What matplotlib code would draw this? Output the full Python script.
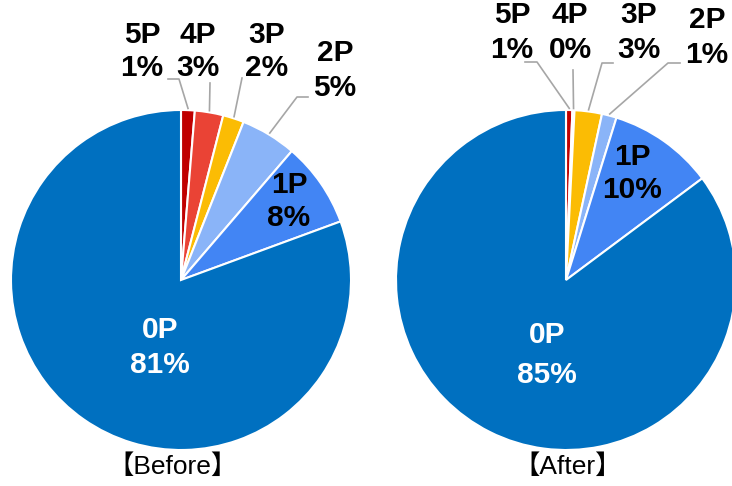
import numpy as np
import matplotlib
matplotlib.use("Agg")
import matplotlib.pyplot as plt

# slices listed clockwise from 12 o'clock
categories = ["5P", "4P", "3P", "2P", "1P", "0P"]
before_values = [1.3, 2.7, 2.0, 5.3, 8.1, 80.6]
after_values = [0.6, 0.2, 2.6, 1.4, 10.0, 85.2]
colors = ["#C00000", "#EA4335", "#FBBC04", "#8AB4F8", "#4285F4", "#0070C0"]
titles = ["【Before】", "【After】"]

W, H = 732, 486
bold_font = ["Liberation Sans", "DejaVu Sans"]
title_font = ["Liberation Sans", "Noto Sans CJK JP", "DejaVu Sans"]

fig = plt.figure(figsize=(W / 100, H / 100), dpi=100)
ax = fig.add_axes([0, 0, 1, 1])

R = 170
# pixel layout (y measured from top)
layouts = [
    dict(center=(181, 280),
         outer={"5P": ((142, 35, 68), [(179, 79), (168, 79)]),
                "4P": ((198, 35, 68), [(210, 83)]),
                "3P": ((267, 35, 68), [(242, 78)]),
                "2P": ((335, 53, 88), [(297, 97), (308, 97)])},
         inner={"1P": (289, 185, 218, "black"), "0P": (160, 330, 365, "white")},
         title=(173, 467)),
    dict(center=(566, 280),
         outer={"5P": ((512, 15, 50), [(537, 62), (525, 62)]),
                "4P": ((570, 15, 50), [(573, 70)]),
                "3P": ((639, 15, 50), [(602, 63), (613, 63)]),
                "2P": ((707, 20, 55), [(668, 63), (680, 63)])},
         inner={"1P": (632, 157, 190, "black"), "0P": (547, 335, 375, "white")},
         title=(568, 467)),
]

for values, lay, title in zip([before_values, after_values], layouts, titles):
    cx, cy = lay["center"]
    ax.pie(values, colors=colors, startangle=90, counterclock=False,
           center=(cx, H - cy), radius=R,
           wedgeprops=dict(edgecolor="white", linewidth=1.5), frame=True)
    total = sum(values)
    cum = np.cumsum([0] + values[:-1]) / total
    fracs = np.array(values) / total
    for i, cat in enumerate(categories):
        pct = f"{round(values[i] / total * 100):.0f}%"
        if cat in lay["outer"]:
            (tx, ty1, ty2), pts = lay["outer"][cat]
            mid = (cum[i] + fracs[i] / 2) * 2 * np.pi
            ex, ey = cx + R * 1.01 * np.sin(mid), cy - R * 1.01 * np.cos(mid)
            xs = [ex] + [p[0] for p in pts]
            ys = [H - ey] + [H - p[1] for p in pts]
            ax.plot(xs, ys, color="#A6A6A6", lw=1.2, zorder=1)
            tc = "black"
        else:
            tx, ty1, ty2, tc = lay["inner"][cat]
        ax.text(tx, H - ty1, cat, ha="center", va="center", fontsize=21.5,
                fontweight="bold", family=bold_font, color=tc)
        ax.text(tx, H - ty2, pct, ha="center", va="center", fontsize=21.5,
                fontweight="bold", family=bold_font, color=tc)
    ax.text(lay["title"][0], H - lay["title"][1], title, ha="center", va="center",
            fontsize=19, family=title_font)

ax.set_xlim(0, W)
ax.set_ylim(0, H)
ax.set_aspect("equal")
ax.axis("off")
fig.savefig("out.png", dpi=100)
